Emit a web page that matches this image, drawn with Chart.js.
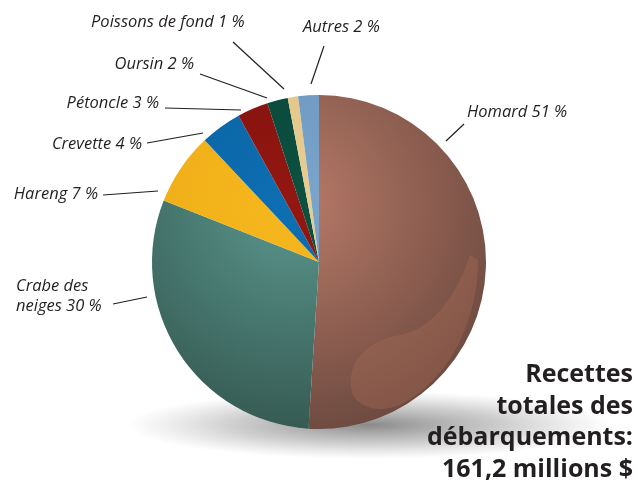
<!DOCTYPE html>
<html>
<head>
<meta charset="utf-8">
<script src="https://cdn.jsdelivr.net/npm/chart.js@4"></script>
<style>
  html, body { margin: 0; padding: 0; background: #fff; }
  #wrap { width: 638px; height: 483px; position: relative; }
</style>
</head>
<body>
<div id="wrap"><canvas id="myChart" width="638" height="483"></canvas></div>
<script>
const categories = ["Homard", "Crabe des neiges", "Hareng", "Crevette", "Pétoncle", "Oursin", "Poissons de fond", "Autres"];
const shares = [51, 30, 7, 4, 3, 2, 1, 2];
const labelLines = [["Homard 51 %"], ["Crabe des", "neiges 30 %"], ["Hareng 7 %"], ["Crevette 4 %"], ["Pétoncle 3 %"], ["Oursin 2 %"], ["Poissons de fond 1 %"], ["Autres 2 %"]];
const totalText = ["Recettes", "totales des", "débarquements:", "161,2 millions $"];

// light / dark shade of each slice
const lightColors = ["#b87a68", "#5b988f", "#f7b81e", "#0d6fb3", "#931712", "#0c5140", "#e9cd90", "#7aa5cc"];
const darkColors = ["#6a483e", "#33564e", "#eaa815", "#0a5f9c", "#7e100c", "#08443a", "#e0c283", "#6690b9"];

// label layout: text anchor [x, y, align] and leader line [x1, y1, x2, y2]
const labelAnchor = [[467, 112, "left"], [16, 286, "left"], [98, 194, "right"], [142, 144, "right"], [159, 103, "right"], [194, 64, "right"], [91, 22, "left"], [303, 27, "left"]];
const leaders = [[446, 141, 464, 124], [113, 304, 147, 297], [103, 195, 158, 191], [147, 143, 203, 133], [165, 108, 241, 110], [200, 74, 267, 98], [233, 42, 284, 89], [324, 46, 311, 84]];

const sliceColor = (c) => {
  const chart = c.chart;
  const area = chart.chartArea;
  if (!area) return lightColors[c.dataIndex];
  const cx = (area.left + area.right) / 2;
  const cy = (area.top + area.bottom) / 2;
  const r = Math.min(area.width, area.height) / 2;
  const g = chart.ctx.createRadialGradient(cx - 0.15 * r, cy - 0.35 * r, 0, cx - 0.15 * r, cy - 0.35 * r, 1.45 * r);
  g.addColorStop(0, lightColors[c.dataIndex]);
  g.addColorStop(1, darkColors[c.dataIndex]);
  return g;
};

const decor = {
  id: "decor",
  beforeDatasetsDraw(chart) {
    const ctx = chart.ctx;
    const arc = chart.getDatasetMeta(0).data[0];
    const cx = arc.x, cy = arc.y, r = arc.outerRadius;
    // soft shadow under the pie
    ctx.save();
    ctx.translate(cx + 50, cy + r - 4);
    ctx.scale(1, 0.14);
    const g = ctx.createRadialGradient(0, 0, 0, 0, 0, r * 1.45);
    g.addColorStop(0, "rgba(60,60,60,0.6)");
    g.addColorStop(0.55, "rgba(90,90,90,0.3)");
    g.addColorStop(1, "rgba(120,120,120,0)");
    ctx.fillStyle = g;
    ctx.beginPath();
    ctx.arc(0, 0, r * 1.45, 0, Math.PI * 2);
    ctx.fill();
    ctx.restore();
  },
  afterDatasetsDraw(chart) {
    const ctx = chart.ctx;
    const arc = chart.getDatasetMeta(0).data[0];
    const cx = arc.x, cy = arc.y;
    ctx.save();
    // swoosh highlight on the lobster slice
    ctx.beginPath();
    ctx.moveTo(cx, cy);
    ctx.arc(cx, cy, arc.outerRadius, arc.startAngle, arc.endAngle);
    ctx.closePath();
    ctx.clip();
    ctx.fillStyle = "rgba(165,105,85,0.4)";
    ctx.beginPath();
    ctx.moveTo(cx + 33, cy + 130);
    ctx.bezierCurveTo(cx + 26, cy + 98, cx + 51, cy + 78, cx + 81, cy + 73);
    ctx.bezierCurveTo(cx + 111, cy + 68, cx + 136, cy + 38, cx + 151, cy - 7);
    ctx.lineTo(cx + 159, cy - 2);
    ctx.bezierCurveTo(cx + 159, cy + 58, cx + 131, cy + 118, cx + 81, cy + 143);
    ctx.bezierCurveTo(cx + 56, cy + 153, cx + 37, cy + 143, cx + 33, cy + 130);
    ctx.closePath();
    ctx.fill();
    ctx.restore();

    ctx.save();
    // leader lines
    ctx.strokeStyle = "#231f20";
    ctx.lineWidth = 1.2;
    leaders.forEach(l => {
      ctx.beginPath();
      ctx.moveTo(l[0], l[1]);
      ctx.lineTo(l[2], l[3]);
      ctx.stroke();
    });
    // slice labels
    ctx.fillStyle = "#231f20";
    ctx.font = "italic 16.5px 'Open Sans'";
    ctx.textBaseline = "middle";
    labelLines.forEach((lines, i) => {
      const a = labelAnchor[i];
      ctx.textAlign = a[2];
      lines.forEach((t, j) => ctx.fillText(t, a[0], a[1] + j * 20));
    });
    // total
    ctx.font = "bold 25px 'Open Sans'";
    ctx.textAlign = "right";
    ctx.textBaseline = "alphabetic";
    totalText.forEach((t, j) => ctx.fillText(t, 633, 382 + j * 31.7));
    ctx.restore();
  }
};

const ctx = document.getElementById("myChart").getContext("2d");
const myChart = new Chart(ctx, {
  type: "pie",
  data: {
    labels: categories,
    datasets: [{
      data: shares,
      backgroundColor: sliceColor,
      borderWidth: 0
    }]
  },
  options: {
    responsive: false,
    animation: false,
    layout: { padding: { left: 152, right: 152, top: 95, bottom: 54 } },
    plugins: {
      legend: { display: false },
      tooltip: { enabled: false }
    }
  },
  plugins: [decor]
});
</script>
</body>
</html>
